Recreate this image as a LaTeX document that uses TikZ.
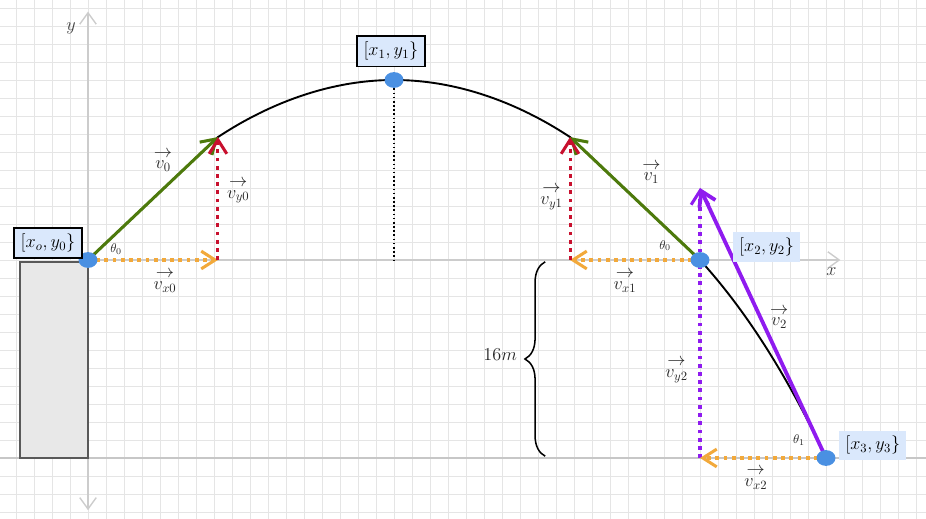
\documentclass[tikz,border=0pt]{standalone}
\usepackage{amsmath}
\usepackage{amssymb}
\usetikzlibrary{arrows.meta,decorations.pathreplacing,shapes.geometric,positioning}

\definecolor{vgreen}{HTML}{4D7A0C}
\definecolor{vred}{HTML}{C8102E}
\definecolor{vorange}{HTML}{F2A93B}
\definecolor{vpurple}{HTML}{8F1BEF}
\definecolor{ptblue}{HTML}{4A90E2}
\definecolor{boxblue}{HTML}{DAE8FC}

\newcommand{\vecarrow}[1]{\overset{\textstyle\rightarrow}{#1}}

\tikzset{
  ball/.style={ellipse, fill=ptblue, minimum width=15pt, minimum height=12.5pt, inner sep=0pt},
  lbl/.style={draw=black, line width=1.2pt, fill=boxblue, minimum width=54pt, minimum height=24pt, inner sep=2pt, font=\Large},
  lblplain/.style={fill=boxblue, minimum width=53pt, minimum height=23pt, inner sep=2pt, font=\Large},
  vlab/.style={text=black!85, inner sep=1pt, font=\Large},
  anglab/.style={text=black!85, inner sep=1pt, font=\normalsize},
  tip/.style={-{Straight Barb[length=11pt,width=14pt]}},
  vec/.style={tip, line width=2.4pt},
  comp/.style={tip, line width=2.4pt, dash pattern=on 3pt off 3.5pt},
  axis/.style={draw=black!20, line width=1.1pt},
}

\begin{document}
\begin{tikzpicture}[x=0.5cm, y=0.5cm]
  \useasboundingbox (-4.889,-14.389) rectangle (46.556,14.444);

  % Grid and axes
  \draw[step=0.5cm, black!10, line width=0.6pt] (-4.889,-14.389) grid (46.556,14.444);
  \coordinate (ybot) at (0,-13.9);
  \coordinate (ytop) at (0,13.8);
  \coordinate (xend) at (41.8,0);
  \coordinate (gleft) at (-4.889,-11);
  \coordinate (gright) at (46.556,-11);
  \draw[axis, {Straight Barb[length=9pt,width=13pt]}-{Straight Barb[length=9pt,width=13pt]}] (ybot) -- (ytop);
  \draw[axis, -{Straight Barb[length=9pt,width=13pt]}] (0,0) -- (xend);
  \draw[draw=black!22, line width=1.2pt] (gleft) -- (gright);
  \node[vlab, text=black!75] (ylab) at (-0.94,12.85) {$y$};
  \node[vlab, text=black!75] (xlab) at (41.3,-0.65) {$x$};

  % Platform
  \draw[fill=black!9, draw=black!65, line width=1.2pt] (-3.78,-11) rectangle (0,-0.1);

  % Define nodes
  \coordinate (p0) at (0,0);
  \coordinate (p1) at (17,10);
  \coordinate (p2) at (34,0);
  \coordinate (p3) at (41,-11);
  \coordinate (t0) at (7.22,6.83);
  \coordinate (b0) at (7.22,0);
  \coordinate (t1) at (26.78,6.83);
  \coordinate (b1) at (26.78,0);
  \coordinate (t2) at (34,4);
  \coordinate (b2) at (34,-11);

  % Trajectory
  \draw[black, line width=1.5pt] (p0) -- (t0) parabola bend (p1) (t1) -- (p2)
    .. controls (36.56,-2.81) and (38.89,-6.48) .. (p3);
  \draw[black, line width=1.3pt, dotted] (p1) -- (17,0);

  % Connect the nodes
  \draw[vec, vgreen] (p0) -- (t0);
  \draw[comp, vorange] (p0) -- (b0);
  \draw[comp, vred] (b0) -- (t0);
  \draw[vec, vgreen] (p2) -- (t1);
  \draw[comp, vorange] (p2) -- (b1);
  \draw[comp, vred] (b1) -- (t1);
  \draw[comp, vpurple] (b2) -- (t2);
  \draw[vec, vpurple, line width=3pt] (p3) -- (t2);
  \draw[comp, vorange] (p3) -- (b2);

  % Points
  \node[ball] (n0) at (p0) {};
  \node[ball] (n1) at (p1) {};
  \node[ball] (n2) at (p2) {};
  \node[ball] (n3) at (p3) {};

  % Labels
  \node[lbl] (l0) at (-2.22,0.94) {$[x_o, y_0\}$};
  \node[lbl] (l1) at (16.83,11.6) {$[x_1, y_1\}$};
  \node[lblplain] (l2) at (37.7,0.72) {$[x_2, y_2\}$};
  \node[lblplain] (l3) at (43.6,-10.3) {$[x_3, y_3\}$};

  \node[vlab] (v0) at (4.17,5.56) {$\vecarrow{v_0}$};
  \node[vlab] (vy0) at (8.35,3.85) {$\vecarrow{v_{y0}}$};
  \node[vlab] (vx0) at (4.28,-1.15) {$\vecarrow{v_{x0}}$};
  \node[vlab] (v1) at (31.3,4.89) {$\vecarrow{v_1}$};
  \node[vlab] (vy1) at (25.75,3.5) {$\vecarrow{v_{y1}}$};
  \node[vlab] (vx1) at (29.83,-1.15) {$\vecarrow{v_{x1}}$};
  \node[vlab] (v2) at (38.4,-3.17) {$\vecarrow{v_2}$};
  \node[vlab] (vy2) at (32.7,-6.11) {$\vecarrow{v_{y2}}$};
  \node[vlab] (vx2) at (37.1,-12.1) {$\vecarrow{v_{x2}}$};
  \node[anglab] (th0) at (1.56,0.6) {$\theta_0$};
  \node[anglab] (th0b) at (32.06,0.8) {$\theta_0$};
  \node[anglab] (th1) at (39.5,-10) {$\theta_1$};

  % Height brace
  \draw[black, line width=1.2pt, decorate, decoration={brace, amplitude=16pt}] (25.4,-10.9) -- (25.4,-0.1);
  \node[vlab] (h) at (22.9,-5.28) {$16m$};

\end{tikzpicture}
\end{document}
